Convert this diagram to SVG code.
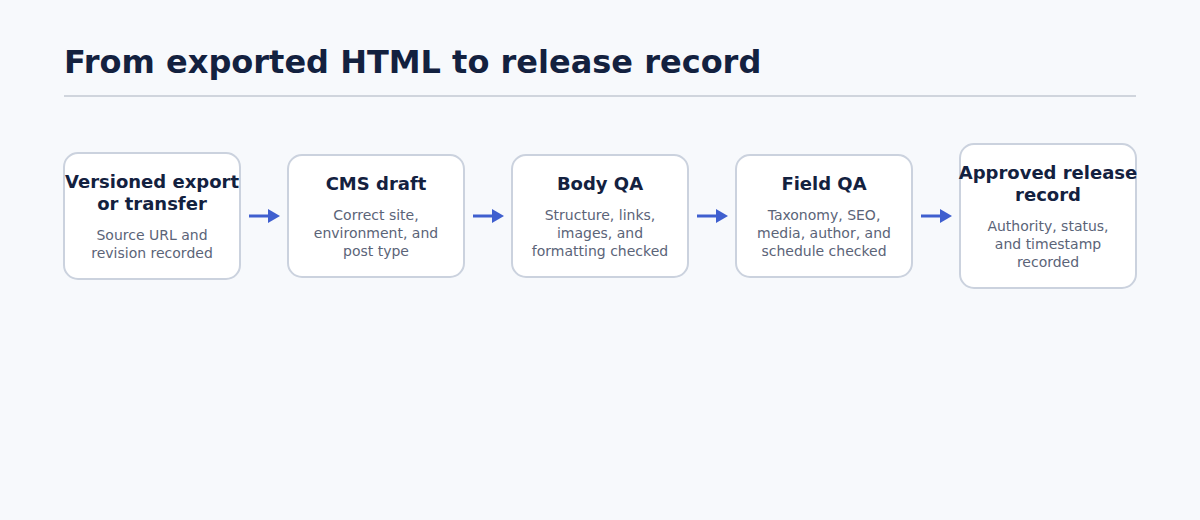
<svg xmlns="http://www.w3.org/2000/svg" width="1200" height="520" viewBox="0 0 1200 520">
<style>
.bg{fill:#f7f9fc}
.title{font-family:"DejaVu Sans",sans-serif;font-weight:bold;font-size:32px;fill:#13213f}
.box{fill:#ffffff;stroke:#cbd2de;stroke-width:2}
.nt{font-family:"DejaVu Sans",sans-serif;font-weight:bold;font-size:18px;fill:#13213f;text-anchor:middle}
.ns{font-family:"DejaVu Sans",sans-serif;font-size:14px;fill:#5b6478;text-anchor:middle}
.conn{stroke:#3f5fcf;stroke-width:3;fill:none}
</style>
<defs>
<marker id="ah" markerUnits="userSpaceOnUse" markerWidth="12" markerHeight="14" refX="0" refY="7" orient="auto">
<path d="M0,0 L12,7 L0,14 Z" fill="#3f5fcf"/>
</marker>
</defs>
<rect class="bg" x="0" y="0" width="1200" height="520"/>
<text class="title" x="64" y="73">From exported HTML to release record</text>
<line x1="64" y1="96" x2="1136" y2="96" stroke="#d0d5dd" stroke-width="2"/>
<g id="connectors">
<line class="conn" x1="249" y1="216" x2="268" y2="216" marker-end="url(#ah)"/>
<line class="conn" x1="473" y1="216" x2="492" y2="216" marker-end="url(#ah)"/>
<line class="conn" x1="697" y1="216" x2="716" y2="216" marker-end="url(#ah)"/>
<line class="conn" x1="921" y1="216" x2="940" y2="216" marker-end="url(#ah)"/>
</g>
<g id="n1">
<rect class="box" x="64" y="153" width="176" height="126" rx="14"/>
<text class="nt" x="152" y="188">Versioned export</text>
<text class="nt" x="152" y="210">or transfer</text>
<text class="ns" x="152" y="240">Source URL and</text>
<text class="ns" x="152" y="258">revision recorded</text>
</g>
<g id="n2">
<rect class="box" x="288" y="155" width="176" height="122" rx="14"/>
<text class="nt" x="376" y="190">CMS draft</text>
<text class="ns" x="376" y="220">Correct site,</text>
<text class="ns" x="376" y="238">environment, and</text>
<text class="ns" x="376" y="256">post type</text>
</g>
<g id="n3">
<rect class="box" x="512" y="155" width="176" height="122" rx="14"/>
<text class="nt" x="600" y="190">Body QA</text>
<text class="ns" x="600" y="220">Structure, links,</text>
<text class="ns" x="600" y="238">images, and</text>
<text class="ns" x="600" y="256">formatting checked</text>
</g>
<g id="n4">
<rect class="box" x="736" y="155" width="176" height="122" rx="14"/>
<text class="nt" x="824" y="190">Field QA</text>
<text class="ns" x="824" y="220">Taxonomy, SEO,</text>
<text class="ns" x="824" y="238">media, author, and</text>
<text class="ns" x="824" y="256">schedule checked</text>
</g>
<g id="n5">
<rect class="box" x="960" y="144" width="176" height="144" rx="14"/>
<text class="nt" x="1048" y="179">Approved release</text>
<text class="nt" x="1048" y="201">record</text>
<text class="ns" x="1048" y="231">Authority, status,</text>
<text class="ns" x="1048" y="249">and timestamp</text>
<text class="ns" x="1048" y="267">recorded</text>
</g>
</svg>
